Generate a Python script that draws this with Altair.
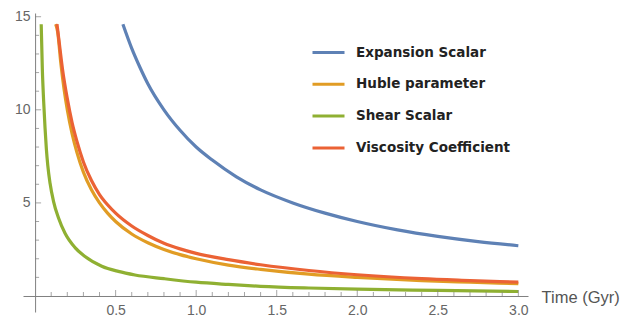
import altair as alt
import pandas as pd

# ---- data ----
series_names = ["Expansion Scalar", "Huble parameter", "Shear Scalar", "Viscosity Coefficient"]
series_colors = ["#5E81B5", "#E19C24", "#8FB032", "#EB6235"]

exp_t = [0.545, 0.6, 0.65, 0.7, 0.8, 0.9, 1.0, 1.1, 1.25, 1.4, 1.6, 1.8, 2.0, 2.25, 2.5, 2.75, 3.0]
exp_v = [14.6, 13.3, 12.3, 11.4, 10.0, 8.9, 8.0, 7.3, 6.4, 5.7, 5.0, 4.45, 4.0, 3.55, 3.2, 2.92, 2.7]

hub_t = [0.128, 0.14, 0.16, 0.18, 0.2, 0.23, 0.26, 0.3, 0.35, 0.4, 0.45, 0.5, 0.6, 0.7, 0.8, 0.9,
         1.0, 1.2, 1.4, 1.7, 2.0, 2.4, 2.7, 3.0]
hub_v = [14.6, 14.2, 12.5, 11.1, 10.0, 8.7, 7.7, 6.65, 5.7, 5.0, 4.45, 4.0, 3.33, 2.86, 2.5, 2.22,
         2.0, 1.66, 1.43, 1.17, 1.0, 0.83, 0.74, 0.66]

shear_t = [0.038, 0.045, 0.053, 0.062, 0.07, 0.079, 0.093, 0.114, 0.145, 0.186, 0.248, 0.31, 0.414,
           0.517, 0.62, 0.8, 1.0, 1.2, 1.4, 1.7, 2.0, 2.5, 3.0]
shear_v = [14.6, 12.2, 10.5, 9.0, 7.9, 7.0, 6.05, 5.1, 4.2, 3.37, 2.6, 2.12, 1.6,
           1.32, 1.13, 0.93, 0.74, 0.62, 0.52, 0.43, 0.37, 0.3, 0.24]

visc_t = [0.136, 0.15, 0.17, 0.2, 0.23, 0.26, 0.3, 0.35, 0.4, 0.45, 0.5, 0.6, 0.7, 0.8, 0.9, 1.0,
          1.2, 1.4, 1.7, 2.0, 2.4, 2.7, 3.0]
visc_v = [14.6, 13.6, 12.2, 10.6, 9.3, 8.3, 7.2, 6.2, 5.45, 4.9, 4.45, 3.76, 3.25, 2.83, 2.53, 2.29,
          1.95, 1.68, 1.37, 1.14, 0.93, 0.83, 0.74]

x_major = [0.5, 1.0, 1.5, 2.0, 2.5, 3.0]
x_minor = [0.1, 0.2, 0.3, 0.4, 0.6, 0.7, 0.8, 0.9, 1.1, 1.2, 1.3, 1.4, 1.6, 1.7, 1.8, 1.9,
           2.1, 2.2, 2.3, 2.4, 2.6, 2.7, 2.8, 2.9]
y_major = [5, 10, 15]
y_minor = [1, 2, 3, 4, 6, 7, 8, 9, 11, 12, 13, 14]

# ---- layout ----
X_DOMAIN = [-0.075, 3.06]
Y_DOMAIN = [-0.86, 15.2]
W, H = 505, 299
FONT = "Liberation Sans"
LEGEND_FONT = "DejaVu Sans"
AXIS_COLOR = "#808080"

x_zero_off = (0 - X_DOMAIN[0]) / (X_DOMAIN[1] - X_DOMAIN[0]) * W
y_zero_off = (0 - Y_DOMAIN[0]) / (Y_DOMAIN[1] - Y_DOMAIN[0]) * H

frames = []
for name, ts, vs in [(series_names[0], exp_t, exp_v), (series_names[1], hub_t, hub_v),
                     (series_names[2], shear_t, shear_v), (series_names[3], visc_t, visc_v)]:
    frames.append(pd.DataFrame({"t": ts, "v": vs, "series": name}))
df = pd.concat(frames, ignore_index=True)

xscale = alt.Scale(domain=X_DOMAIN, nice=False, zero=False)
yscale = alt.Scale(domain=Y_DOMAIN, nice=False, zero=False)

x_axis = alt.Axis(
    values=x_major, format=".1f", ticks=False, tickSize=0, grid=False,
    domainColor=AXIS_COLOR, domainWidth=1, offset=-y_zero_off,
    labelFont=FONT, labelFontSize=14, labelColor="#666666", labelPadding=8,
    title="Time (Gyr)", titleFont=FONT, titleFontSize=16.5, titleFontWeight="normal",
    titleColor="#555555", titleX=W + 13, titleY=2, titleAlign="left",
    titleBaseline="middle", titleAnchor="start")
y_axis = alt.Axis(
    values=y_major, format="d", ticks=False, tickSize=0, grid=False,
    domainColor=AXIS_COLOR, domainWidth=1, offset=-x_zero_off,
    labelFont=FONT, labelFontSize=14, labelColor="#666666", labelPadding=5,
    title=None)

lines = alt.Chart(df).mark_line(strokeWidth=3.2, interpolate="monotone").encode(
    x=alt.X("t:Q", scale=xscale, axis=x_axis),
    y=alt.Y("v:Q", scale=yscale, axis=y_axis),
    color=alt.Color("series:N", scale=alt.Scale(domain=series_names, range=series_colors),
                    legend=alt.Legend(orient="none", legendX=288, legendY=22, title=None,
                                      symbolType="stroke", symbolSize=1024, symbolStrokeWidth=3,
                                      labelFont=LEGEND_FONT, labelFontSize=13.5, labelFontWeight="bold",
                                      labelColor="#222222",
                                      labelOffset=10, rowPadding=7.8)),
    order=alt.Order("t:Q"),
)

xmaj_df = pd.DataFrame({"t": x_major, "v": [0] * len(x_major)})
xmin_df = pd.DataFrame({"t": x_minor, "v": [0] * len(x_minor)})
ymaj_df = pd.DataFrame({"t": [0] * len(y_major), "v": y_major})
ymin_df = pd.DataFrame({"t": [0] * len(y_minor), "v": y_minor})

def tick_layer(data, orient, size, xo, yo):
    kw = dict(orient=orient, size=size, thickness=1, color=AXIS_COLOR)
    if xo:
        kw["xOffset"] = xo
    if yo:
        kw["yOffset"] = yo
    return alt.Chart(data).mark_tick(**kw).encode(
        x=alt.X("t:Q", scale=xscale, axis=x_axis),
        y=alt.Y("v:Q", scale=yscale, axis=y_axis),
    )

xt_major = tick_layer(xmaj_df, "vertical", 6, 0, -3)
xt_minor = tick_layer(xmin_df, "vertical", 4, 0, -2)
yt_major = tick_layer(ymaj_df, "horizontal", 6, 3, 0)
yt_minor = tick_layer(ymin_df, "horizontal", 4, 2, 0)

chart = alt.layer(lines, xt_major, xt_minor, yt_major, yt_minor).properties(
    width=W, height=H,
    autosize=alt.AutoSizeParams(type="none"),
    padding={"left": 15, "top": 5, "right": 94, "bottom": 6},
).configure_view(stroke=None)

chart.save("out.html", embed_options={"renderer": "svg", "actions": False})
